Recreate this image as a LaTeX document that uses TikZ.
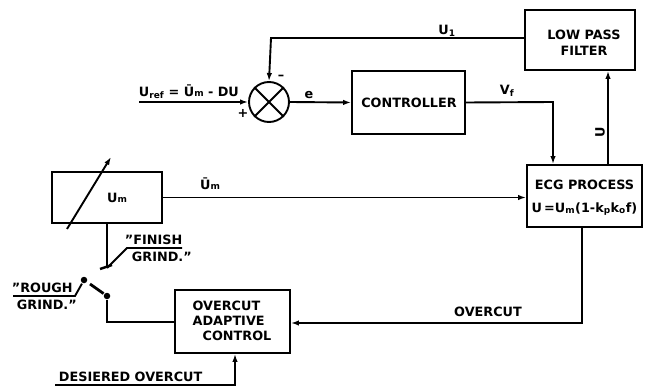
\documentclass[tikz,border=0pt]{standalone}
\usepackage{fontspec}
\setmainfont{DejaVu Sans}
\usetikzlibrary{arrows.meta}
\begin{document}
\begin{tikzpicture}[x=1pt,y=-1pt,
  line width=1.9pt,
  blk/.style={draw,rectangle,inner sep=0pt},
  lbl/.style={font=\bfseries\fontsize{12.8}{14}\selectfont,inner sep=1pt},
  arr/.style={-{Latex[length=8pt,width=5.5pt]}},
  dotc/.style={circle,fill,inner sep=0pt,minimum size=6.5pt}]
\useasboundingbox (0,0) rectangle (647,387);
% blocks
\node[blk,minimum width=110pt,minimum height=60pt] (lpf) at (580,40) {};
\node[lbl,align=center] (lpft) at (584,43) {LOW PASS\\[2pt]FILTER};
\node[blk,minimum width=113pt,minimum height=63pt] (ctrl) at (408.5,102.5) {};
\node[lbl] (ctrlt) at (409,103) {CONTROLLER};
\node[draw,circle,minimum size=40pt,inner sep=0pt] (sum) at (269,102) {};
\draw (sum.north west) -- (sum.south east) (sum.north east) -- (sum.south west);
\node[blk,minimum width=115pt,minimum height=62pt] (ecg) at (584.5,196) {};
\node[lbl] (ecgt1) at (584.5,185) {ECG PROCESS};
\node[lbl] (ecgt2) at (584.5,209) {U\,=U\textsubscript{m}(1-k\textsubscript{p}k\textsubscript{o}f)};
\node[blk,minimum width=110pt,minimum height=51pt] (um) at (107,197.5) {};
\node[lbl] (umt) at (117,198) {U{\small m}};
\node[blk,minimum width=115pt,minimum height=63pt] (oac) at (232.5,321.5) {};
\node[lbl,align=left] (oact) at (232,321) {OVERCUT\\[1pt]ADAPTIVE\\[1pt]\hspace*{10pt}CONTROL};
% diagonal arrow through Um box
\coordinate (d1) at (67,229);
\coordinate (d2) at (111,157);
\draw[arr] (d1) -- (d2);
% feedback U1
\coordinate (fb) at (271,38);
\draw[arr] (lpf.west |- fb) -- (fb) -- (sum.north);
\node[lbl] (u1) at (447,31) {U\textsubscript{1}};
\node[lbl] (minus) at (281,77) {--};
% e
\draw[arr] (sum.east) -- (ctrl.west);
\node[lbl] (e) at (309,95) {e};
% Uref
\coordinate (uref) at (139,102);
\draw[arr] (uref) -- (sum.west);
\node[lbl,anchor=south west] (ureft) at (137,101) {U\textsubscript{ref} = Ū{\small m} - DU};
\node[lbl] (plus) at (243,113) {+};
% Vf
\coordinate (vf) at (553,102);
\draw[arr] (ctrl.east) -- (vf) -- (vf |- ecg.north);
\node[lbl] (vft) at (507,91) {V\textsubscript{f}};
% U
\coordinate (ut) at (608,165);
\draw[arr] (ut) -- (ut |- lpf.south);
\node[lbl,rotate=90] (ul) at (600,132) {U};
% Um bar
\draw[arr] (um.east) -- (um.east -| ecg.west);
\node[lbl] (umb) at (210,184) {Ū{\small m}};
% overcut
\coordinate (oc1) at (582,227);
\coordinate (oc2) at (582,323);
\draw[arr] (oc1) -- (oc2) -- (oc2 -| oac.east);
\node[lbl] (oct) at (488,312) {OVERCUT};
% desired overcut
\coordinate (de1) at (55,385);
\coordinate (de2) at (235,385);
\draw[arr] (de1) -- (de2) -- (de2 |- oac.south);
\node[lbl,anchor=south west] (det) at (57,384) {DESIERED OVERCUT};
% switch
\coordinate (sw0) at (107,223);
\coordinate (swt) at (107,268);
\node[dotc] (piv) at (107,296) {};
\coordinate (swb) at (107,322);
\draw (um.south -| sw0) -- (swt);
\draw[line width=2.5pt] (100,269) -- (112,265);
\draw (piv) -- (swb) -- (oac.west |- swb);
\draw[line width=2.8pt] (piv) -- (90,284);
\node[dotc] (rc) at (84,280) {};
% rough grind label
\coordinate (rg1) at (13,296);
\coordinate (rg2) at (75,296);
\draw (rg1) -- (rg2) -- (rc);
\node[lbl,anchor=south west] (rgt) at (10,295) {"ROUGH};
\node[lbl,anchor=north west] (rgt2) at (15,298) {GRIND."};
% finish grind label
\coordinate (fg1) at (127,248);
\coordinate (fg2) at (182,248);
\draw (fg2) -- (fg1) -- (swt);
\node[lbl,anchor=south west] (fgt) at (123,247) {"FINISH};
\node[lbl,anchor=north west] (fgt2) at (130,250) {GRIND."};
\end{tikzpicture}
\end{document}
